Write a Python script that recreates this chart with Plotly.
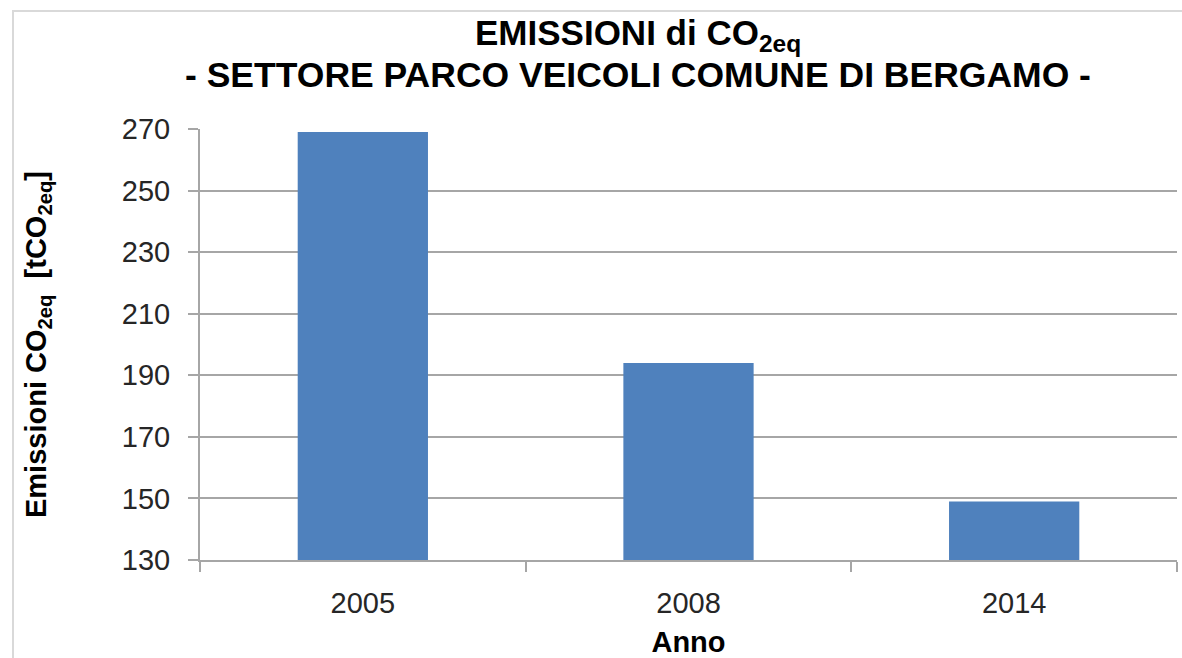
import plotly.graph_objects as go

anni = ["2005", "2008", "2014"]
emissioni = [269, 194, 149]
y_ticks = [130, 150, 170, 190, 210, 230, 250, 270]

titolo_1 = "<b>EMISSIONI di CO<sub>2eq</sub></b>"
titolo_2 = "<b>- SETTORE PARCO VEICOLI COMUNE DI BERGAMO -</b>"

FONT = "Liberation Sans, Arial, sans-serif"

fig = go.Figure()
fig.add_trace(go.Bar(
    x=anni, y=emissioni,
    marker=dict(color="#4f81bd", line=dict(width=0)),
    showlegend=False,
))

fig.update_layout(
    width=1182, height=658,
    margin=dict(l=200, r=5, t=129, b=98),
    paper_bgcolor="white", plot_bgcolor="white",
    bargap=0.6,
    font=dict(family=FONT, size=28, color="#262626"),
    annotations=[
        dict(text=titolo_1, xref="paper", yref="paper", x=0.448, y=1.218,
             xanchor="center", yanchor="middle", showarrow=False,
             font=dict(family=FONT, size=35, color="black")),
        dict(text=titolo_2, xref="paper", yref="paper", x=0.448, y=1.125,
             xanchor="center", yanchor="middle", showarrow=False,
             font=dict(family=FONT, size=35.5, color="black")),
    ],
    shapes=[dict(type="rect", xref="paper", yref="paper",
                 x0=-0.1914, x1=1.2, y0=-0.5, y1=1.274,
                 line=dict(color="#d9d9d9", width=2), layer="below")],
)

fig.update_yaxes(
    range=[130, 270],
    tickvals=y_ticks,
    showgrid=True, gridcolor="#a6a6a6", gridwidth=2,
    showline=True, linecolor="#a6a6a6", linewidth=2,
    ticks="outside", ticklen=10, tickcolor="#a6a6a6", tickwidth=2,
    ticklabelstandoff=12,
    tickfont=dict(family=FONT, size=29, color="#262626"),
    title=dict(text="<b>Emissioni CO<sub>2eq</sub>  [tCO<sub>2eq</sub>]</b>",
               font=dict(family=FONT, size=29, color="black"), standoff=67),
    zeroline=False,
)
fig.update_xaxes(
    showgrid=False,
    showline=True, linecolor="#a6a6a6", linewidth=2,
    ticks="outside", ticklen=10, tickcolor="#a6a6a6", tickwidth=2,
    tickson="boundaries",
    ticklabelstandoff=16,
    tickfont=dict(family=FONT, size=29, color="#262626"),
    title=dict(text="<b>Anno</b>", font=dict(family=FONT, size=29, color="black"), standoff=14),
)

fig.write_html("out.html", config={"displayModeBar": False},
               post_script="document.body.style.margin='0';document.body.style.overflow='hidden';")
